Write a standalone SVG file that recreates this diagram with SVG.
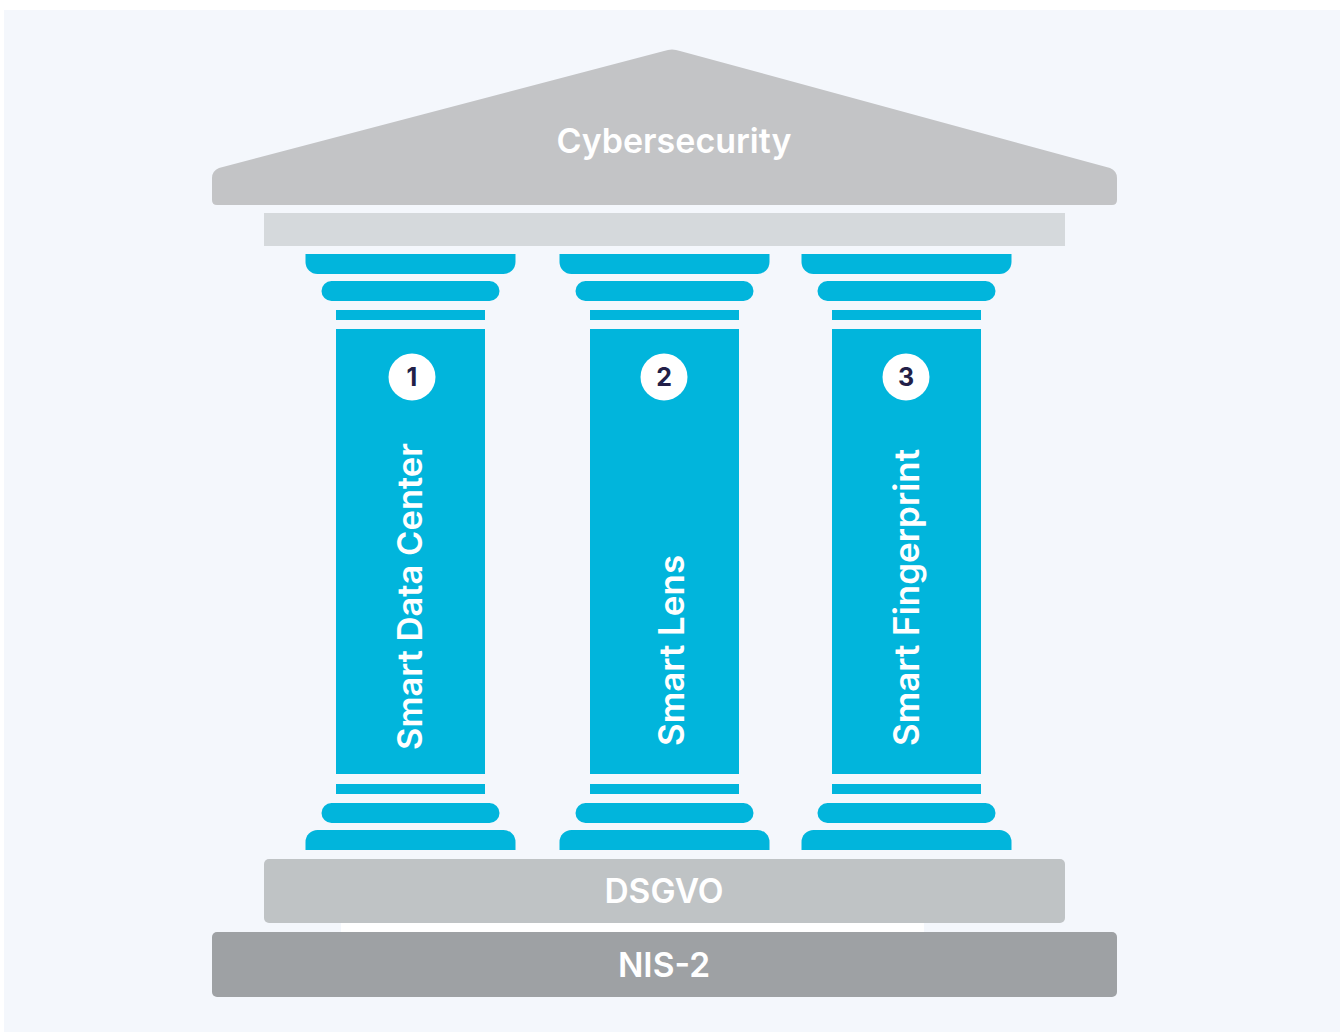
<svg xmlns="http://www.w3.org/2000/svg" width="1343" height="1032" viewBox="0 0 1343 1032">
<defs>
<style>
.cy{fill:#01b5dc}
.lbl{font-family:Inter,"Noto Sans","Liberation Sans",sans-serif;font-weight:600;fill:#ffffff}
.num{font-family:Inter,"Noto Sans","Liberation Sans",sans-serif;font-weight:700;font-size:25px;fill:#221f48;text-anchor:middle}
</style>
<g id="pillarShape">
<path class="cy" d="M-105,0 H105 V8 A12,12 0 0 1 93,20 H-93 A12,12 0 0 1 -105,8 Z"/>
<rect class="cy" x="-89" y="27" width="178" height="20" rx="10"/>
<rect class="cy" x="-74.5" y="56" width="149" height="10"/>
<rect class="cy" x="-74.5" y="75" width="149" height="445"/>
<rect class="cy" x="-74.5" y="530" width="149" height="10"/>
<rect class="cy" x="-89" y="549" width="178" height="20" rx="10"/>
<path class="cy" d="M-105,596 V588 A12,12 0 0 1 -93,576 H93 A12,12 0 0 1 105,588 V596 Z"/>
</g>
</defs>
<rect x="0" y="0" width="1343" height="1032" fill="#ffffff"/>
<rect x="4" y="10" width="1336" height="1022" fill="#f4f7fc"/>
<g id="roof">
<path d="M217,205 Q212,205 212,200 L212,178 Q212,171 219,168 L664,51 Q672,48 680,51 L1110,168 Q1117,171 1117,178 L1117,200 Q1117,205 1112,205 Z" fill="#c3c4c6"/>
<text class="lbl" x="674" y="153" font-size="34" text-anchor="middle">Cybersecurity</text>
</g>
<g id="architrave">
<rect x="264" y="213" width="801" height="33" fill="#d5d9dc"/>
</g>
<g id="pillar1">
<use href="#pillarShape" x="410.5" y="254"/>
<circle cx="412" cy="377" r="23.5" fill="#ffffff"/>
<text class="num" x="412" y="386">1</text>
<text class="lbl" font-size="34.5" transform="translate(422,750) rotate(-90)">Smart Data Center</text>
</g>
<g id="pillar2">
<use href="#pillarShape" x="664.5" y="254"/>
<circle cx="664" cy="377" r="23.5" fill="#ffffff"/>
<text class="num" x="664" y="386">2</text>
<text class="lbl" font-size="35" transform="translate(684,746) rotate(-90)">Smart Lens</text>
</g>
<g id="pillar3">
<use href="#pillarShape" x="906.5" y="254"/>
<circle cx="906" cy="377" r="23.5" fill="#ffffff"/>
<text class="num" x="906" y="386">3</text>
<text class="lbl" font-size="35" transform="translate(919,746) rotate(-90)">Smart Fingerprint</text>
</g>
<g id="dsgvo">
<rect x="341" y="920" width="583" height="14" fill="#ffffff"/>
<rect x="264" y="859" width="801" height="64" rx="5" fill="#bfc3c5"/>
<text class="lbl" x="664" y="903" font-size="33.5" text-anchor="middle">DSGVO</text>
</g>
<g id="nis2">
<rect x="212" y="932" width="905" height="65" rx="5" fill="#9ea1a4"/>
<text class="lbl" x="664" y="977" font-size="33.5" text-anchor="middle">NIS-2</text>
</g>
<g id="connectors"></g>
</svg>
